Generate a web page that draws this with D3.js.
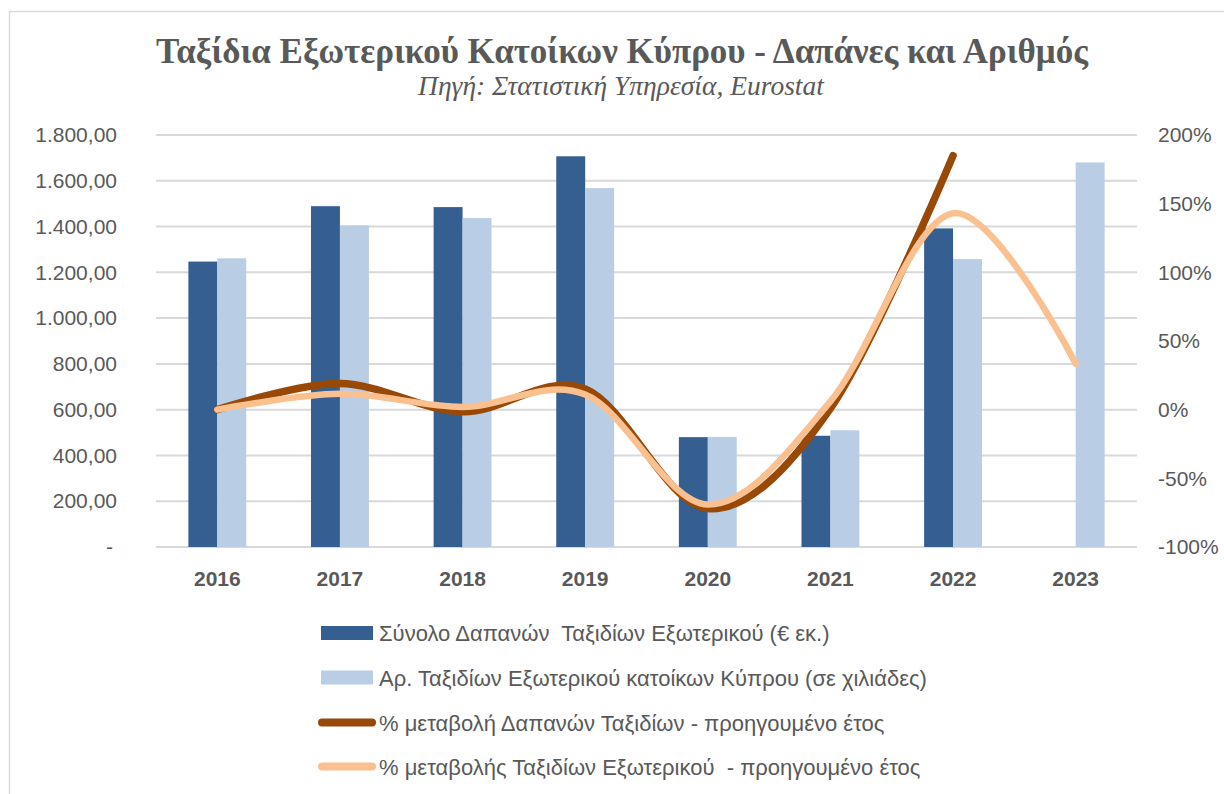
<!DOCTYPE html>
<html>
<head>
<meta charset="utf-8">
<script src="https://cdn.jsdelivr.net/npm/d3@7"></script>
<style>
    body { margin: 0; background: #fff; }
    svg { display: block; }
    .tick text { fill: #595959; font-family: "Liberation Sans", Arial, sans-serif; font-size: 21px; }
    .x-axis .tick text { font-weight: bold; font-size: 21px; }
    .legend text { fill: #595959; font-family: "Liberation Sans", Arial, sans-serif; font-size: 22px; white-space: pre; }
</style>
</head>
<body>
<svg id="chart" width="1224" height="794"></svg>
<script>
var years = ['2016', '2017', '2018', '2019', '2020', '2021', '2022', '2023'];
// € εκ.
var spending = [1247, 1489, 1485, 1707, 480, 486, 1392, null];
// χιλιάδες ταξίδια
var trips = [1261, 1405, 1437, 1568, 481, 510, 1258, 1680];
// % μεταβολή
var spendingChange = [0, 19, -1.5, 15, -72, 1, 185, null];
var tripsChange = [0, 11.5, 2, 11, -69, 6, 143, 33.5];

var leftTicks = [0, 200, 400, 600, 800, 1000, 1200, 1400, 1600, 1800];
var rightTicks = [-100, -50, 0, 50, 100, 150, 200];

var seriesNames = [
    'Σύνολο Δαπανών  Ταξιδίων Εξωτερικού (€ εκ.)',
    'Αρ. Ταξιδίων Εξωτερικού κατοίκων Κύπρου (σε χιλιάδες)',
    '% μεταβολή Δαπανών Ταξιδίων - προηγουμένο έτος',
    '% μεταβολής Ταξιδίων Εξωτερικού  - προηγουμένο έτος'
];
var colors = ['#365f91', '#b9cde5', '#984807', '#fac090'];

var svg = d3.select('#chart');
var margin = {top: 135, right: 87, bottom: 247, left: 156};
var width = 1224 - margin.left - margin.right;
var height = 794 - margin.top - margin.bottom;

// outer frame
svg.append('rect')
    .attr('x', 9.5).attr('y', 11.5)
    .attr('width', 1230).attr('height', 800)
    .style('fill', 'none').style('stroke', '#d9d9d9').style('stroke-width', 1.5);

svg.append('text')
    .attr('x', 622).attr('y', 63)
    .attr('text-anchor', 'middle')
    .style('font-family', '"Liberation Serif", "DejaVu Serif", serif')
    .style('font-weight', 'bold').style('font-size', '35px').style('fill', '#595959')
    .text('Ταξίδια Εξωτερικού Κατοίκων Κύπρου - Δαπάνες και Αριθμός');

svg.append('text')
    .attr('x', 621).attr('y', 95)
    .attr('text-anchor', 'middle')
    .style('font-family', '"Liberation Serif", "DejaVu Serif", serif')
    .style('font-style', 'italic').style('font-size', '27.5px').style('fill', '#595959')
    .text('Πηγή: Στατιστική Υπηρεσία, Eurostat');

var g = svg.append('g').attr('transform', 'translate(' + margin.left + ',' + margin.top + ')');

var x = d3.scaleBand().domain(years).range([0, width]);
var bw = x.bandwidth();
var xSub = d3.scaleBand().domain([0, 1]).range([bw * 0.264, bw * 0.736]);
var yLeft = d3.scaleLinear().domain([0, 1800]).range([height, 0]);
var yRight = d3.scaleLinear().domain([-100, 200]).range([height, 0]);

var locale = d3.formatLocale({decimal: ',', thousands: '.', grouping: [3], currency: ['', '€']});
var fmt = locale.format(',.2f');

// grid
g.selectAll('line.grid')
    .data(leftTicks)
    .enter().append('line')
    .attr('class', 'grid')
    .attr('x1', 0).attr('x2', width)
    .attr('y1', function(d){ return yLeft(d); })
    .attr('y2', function(d){ return yLeft(d); })
    .style('stroke', '#d9d9d9').style('stroke-width', 2);

// axes
var leftAxis = g.append('g')
    .call(d3.axisLeft(yLeft).tickValues(leftTicks).tickSize(0).tickPadding(39)
        .tickFormat(function(d){ return d === 0 ? '-' : fmt(d); }));
leftAxis.select('.domain').remove();
leftAxis.selectAll('.tick text').filter(function(d){ return d === 0; }).attr('dx', -4);

var rightAxis = g.append('g')
    .attr('transform', 'translate(' + width + ',0)')
    .call(d3.axisRight(yRight).tickValues(rightTicks).tickSize(0).tickPadding(21)
        .tickFormat(function(d){ return d + '%'; }));
rightAxis.select('.domain').remove();

var xAxis = g.append('g')
    .attr('class', 'x-axis')
    .attr('transform', 'translate(0,' + height + ')')
    .call(d3.axisBottom(x).tickSize(0));
xAxis.select('.domain').remove();
xAxis.selectAll('.tick text').attr('y', 39).attr('dy', 0);

// bars
var barSeries = [spending, trips];
barSeries.forEach(function(values, i){
    g.selectAll('rect.bar-' + i)
        .data(values.map(function(v, j){ return {year: years[j], value: v}; })
            .filter(function(d){ return d.value !== null; }))
        .enter().append('rect')
        .attr('class', 'bar-' + i)
        .attr('x', function(d){ return x(d.year) + xSub(i); })
        .attr('width', xSub.bandwidth())
        .attr('y', function(d){ return yLeft(d.value); })
        .attr('height', function(d){ return height - yLeft(d.value); })
        .style('fill', colors[i]);
});

// lines
var line = d3.line()
    .defined(function(d){ return d.value !== null; })
    .x(function(d){ return x(d.year) + bw / 2; })
    .y(function(d){ return yRight(d.value); })
    .curve(d3.curveCardinal.tension(0));

var lineSeries = [spendingChange, tripsChange];
var lineWidths = [7.5, 6.5];
lineSeries.forEach(function(values, i){
    g.append('path')
        .datum(values.map(function(v, j){ return {year: years[j], value: v}; }))
        .attr('d', line)
        .style('fill', 'none')
        .style('stroke', colors[i + 2])
        .style('stroke-width', lineWidths[i])
        .style('stroke-linecap', 'round')
        .style('stroke-linejoin', 'round');
});

// legend
var legendRows = [633, 677.5, 722.5, 766.5];
var legend = svg.append('g').attr('class', 'legend');
seriesNames.forEach(function(name, i){
    var row = legend.append('g').attr('transform', 'translate(0,' + legendRows[i] + ')');
    if(i < 2){
        row.append('rect')
            .attr('x', 321).attr('y', -7).attr('width', 52).attr('height', 14)
            .style('fill', colors[i]);
    } else {
        row.append('line')
            .attr('x1', 322).attr('x2', 372).attr('y1', 0).attr('y2', 0)
            .style('stroke', colors[i]).style('stroke-width', 8)
            .style('stroke-linecap', 'round');
    }
    row.append('text')
        .attr('x', 379).attr('y', 8)
        .text(name);
});
</script>
</body>
</html>
